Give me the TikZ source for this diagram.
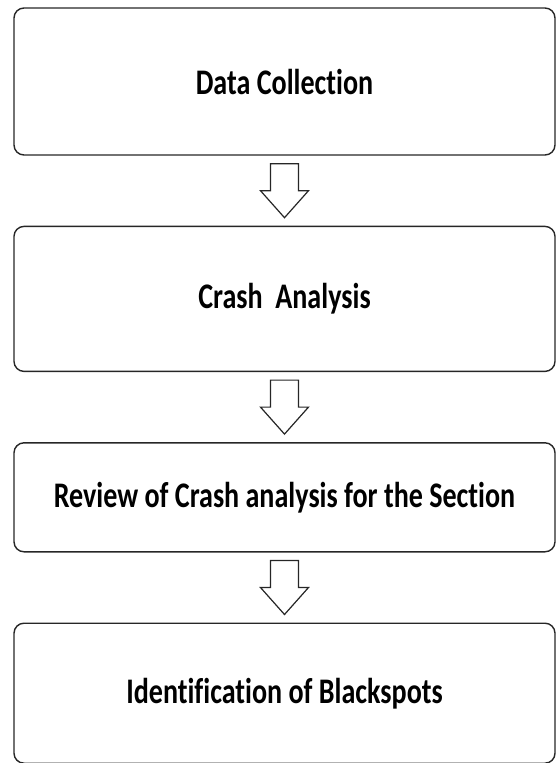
\documentclass[tikz,border=0pt]{standalone}
\usepackage{fontspec}
\setmainfont[FakeStretch=0.78, Ligatures=NoCommon]{Carlito}
\usetikzlibrary{positioning,calc}
\tikzstyle{stage} = [rectangle, rounded corners=10pt, minimum width=541pt, align=center, draw=black!85, line width=1.4pt, font=\fontsize{36}{40}\selectfont\bfseries]
\tikzstyle{hollow} = [draw=black!85, line width=1.2pt, fill=white, line join=miter]

\begin{document}
\begin{tikzpicture}
\useasboundingbox (0,0) rectangle (557pt,-763pt);
\node[stage, minimum height=147pt] (collect) at (284.5pt,-81.5pt) {Data Collection};
\node[stage, minimum height=145pt, below=70pt of collect] (crash) {Crash\ \ Analysis};
\node[stage, minimum height=109pt, below=70pt of crash] (review) {Review of Crash\ analysis for the Section};
\node[stage, minimum height=140pt, below=70pt of review] (spots) {Identification of Blackspots};

% hollow block arrows between the stages
\foreach \a/\b in {collect/crash, crash/review, review/spots}
  \draw[hollow] ($(\a.south)!0.5!(\b.north)$) ++(-14pt,27pt) -- ++(28pt,0) -- ++(0,-27pt) -- ++(10pt,0) -- ++(-24pt,-27pt) -- ++(-24pt,27pt) -- ++(10pt,0) -- cycle;
\end{tikzpicture}
\end{document}
